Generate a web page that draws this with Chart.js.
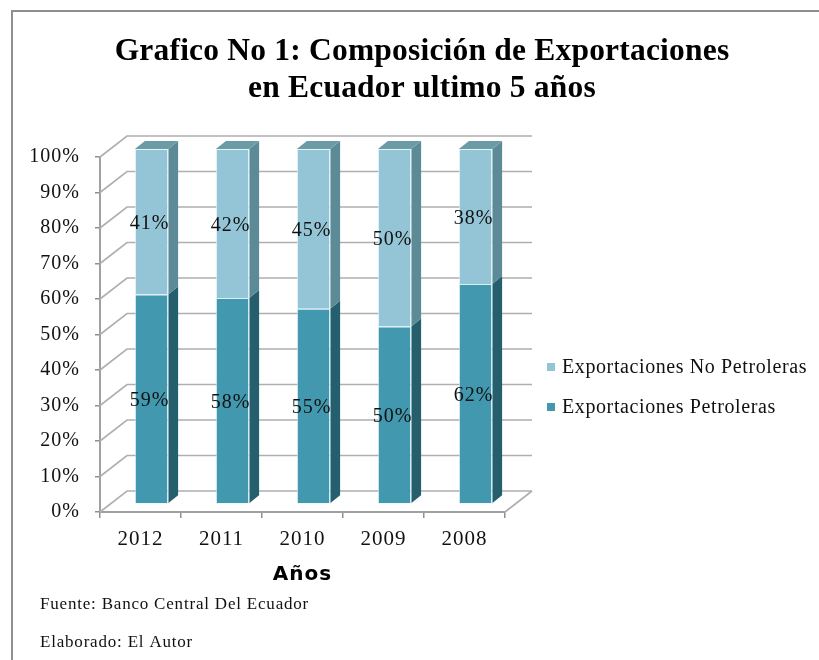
<!DOCTYPE html>
<html><head><meta charset="utf-8">
<script src="https://cdn.jsdelivr.net/npm/chart.js@4/dist/chart.umd.min.js"></script>
<style>html,body{margin:0;padding:0;background:#fff;}#wrap{position:relative;width:819px;height:660px;}</style>
</head><body><div id="wrap"><canvas id="c" width="819" height="660"></canvas></div>
<script>
const categories = ['2012', '2011', '2010', '2009', '2008'];
const petroleras = [59, 58, 55, 50, 62];
const noPetroleras = [41, 42, 45, 50, 38];
const yTickValues = [0, 10, 20, 30, 40, 50, 60, 70, 80, 90, 100];
const seriesNames = ['Exportaciones Petroleras', 'Exportaciones No Petroleras'];
const titleLines = ['Grafico No 1: Composición de Exportaciones', 'en Ecuador ultimo 5 años'];
const xAxisTitle = 'Años';
const notes = ['Fuente: Banco Central Del Ecuador', 'Elaborado: El Autor'];

const FRONT = ['#4298AE', '#93C5D6'];
const SIDE = ['#255F6D', '#5D8A97'];
const TOP = ['#3A7F90', '#6C9BA8'];
const SERIF = '"Liberation Serif", "Times New Roman", serif';
const BACK = {dx: 27, dy: -21};
const BAR = {dx: 11, dy: -8};
const DEPTH = {dx: 10, dy: -8};

const threeD = {
  id: 'threeD',
  beforeDraw(chart) {
    const ctx = chart.ctx;
    ctx.save();
    ctx.strokeStyle = '#8f8f8f';
    ctx.lineWidth = 2;
    ctx.strokeRect(12, 11, 900, 800);
    ctx.restore();
    ctx.letterSpacing = '1px';
  },
  beforeDatasetsDraw(chart) {
    const ctx = chart.ctx;
    const xs = chart.scales.x, ys = chart.scales.y;
    const L = xs.left, R = xs.right;
    ctx.save();
    ctx.strokeStyle = '#afafaf';
    ctx.lineWidth = 1.6;
    yTickValues.forEach(v => {
      const y = ys.getPixelForValue(v);
      ctx.beginPath();
      ctx.moveTo(L, y);
      ctx.lineTo(L + BACK.dx, y + BACK.dy);
      ctx.lineTo(R + BACK.dx, y + BACK.dy);
      if (v === 0) { ctx.moveTo(R, y); ctx.lineTo(R + BACK.dx, y + BACK.dy); }
      ctx.stroke();
    });
    ctx.restore();
    ctx.save();
    ctx.translate(BAR.dx, BAR.dy);
  },
  afterDatasetsDraw(chart) {
    const ctx = chart.ctx;
    const nd = chart.data.datasets.length;
    chart.data.datasets.forEach((ds, di) => {
      const meta = chart.getDatasetMeta(di);
      meta.data.forEach((el) => {
        const p = el.getProps(['x', 'y', 'base', 'width'], true);
        const l = p.x - p.width / 2, r = p.x + p.width / 2;
        ctx.fillStyle = SIDE[di];
        ctx.beginPath();
        ctx.moveTo(r, p.y); ctx.lineTo(r + DEPTH.dx, p.y + DEPTH.dy);
        ctx.lineTo(r + DEPTH.dx, p.base + DEPTH.dy); ctx.lineTo(r, p.base);
        ctx.closePath(); ctx.fill();
        ctx.strokeStyle = 'rgba(220,240,245,0.8)'; ctx.lineWidth = 1;
        ctx.beginPath(); ctx.moveTo(r, p.y); ctx.lineTo(r, p.base); ctx.stroke();
        if (di === nd - 1) {
          ctx.fillStyle = TOP[di];
          ctx.beginPath();
          ctx.moveTo(l, p.y); ctx.lineTo(l + DEPTH.dx, p.y + DEPTH.dy);
          ctx.lineTo(r + DEPTH.dx, p.y + DEPTH.dy); ctx.lineTo(r, p.y);
          ctx.closePath(); ctx.fill();
        }
      });
    });
    ctx.fillStyle = '#111';
    ctx.font = '20px ' + SERIF;
    ctx.letterSpacing = '1px';
    ctx.textAlign = 'center';
    ctx.textBaseline = 'middle';
    chart.data.datasets.forEach((ds, di) => {
      const meta = chart.getDatasetMeta(di);
      meta.data.forEach((el, i) => {
        const p = el.getProps(['x', 'y', 'base'], true);
        ctx.fillText(ds.data[i] + '%', p.x - 2, (p.y + p.base) / 2 + 2);
      });
    });
    ctx.restore();
  },
  afterDraw(chart) {
    const ctx = chart.ctx;
    ctx.save();
    ctx.fillStyle = '#000';
    ctx.textAlign = 'center';
    ctx.textBaseline = 'middle';
    ctx.letterSpacing = '0.2px';
    ctx.font = 'bold 31.5px ' + SERIF;
    ctx.fillText(titleLines[0], 422, 52);
    ctx.fillText(titleLines[1], 422, 89);
    // legend (reverse order)
    ctx.textAlign = 'left';
    ctx.font = '20px ' + SERIF;
    ctx.letterSpacing = '0.6px';
    const ly = [407, 367];
    chart.data.datasets.forEach((ds, di) => {
      ctx.fillStyle = FRONT[di];
      ctx.fillRect(547, ly[di] - 4, 8, 8);
      ctx.fillStyle = '#111';
      ctx.fillText(ds.label, 562, ly[di] + 1);
    });
    ctx.font = '17px ' + SERIF;
    ctx.letterSpacing = '0.8px';
    ctx.fillText(notes[0], 40, 605);
    ctx.fillText(notes[1], 40, 643);
    ctx.restore();
  }
};

new Chart(document.getElementById('c'), {
  type: 'bar',
  data: {
    labels: categories,
    datasets: [
      {label: seriesNames[0], data: petroleras, backgroundColor: FRONT[0], borderColor: 'rgba(200,232,240,0.7)', borderWidth: 1, barPercentage: 0.41, categoryPercentage: 1, clip: false},
      {label: seriesNames[1], data: noPetroleras, backgroundColor: FRONT[1], borderColor: 'rgba(225,242,247,0.8)', borderWidth: 1, barPercentage: 0.41, categoryPercentage: 1, clip: false}
    ]
  },
  options: {
    responsive: false,
    animation: false,
    devicePixelRatio: 1,
    layout: {padding: {left: 0, right: 314, top: 157, bottom: 73}},
    plugins: {legend: {display: false}, title: {display: false}, tooltip: {enabled: false}},
    scales: {
      x: {
        stacked: true,
        grid: {drawOnChartArea: false, drawTicks: true, tickLength: 6, color: '#8f8f8f', lineWidth: 1.5},
        border: {display: true, color: '#a0a0a0', width: 2},
        ticks: {color: '#111', font: {family: SERIF, size: 21}, padding: 9},
        title: {display: true, text: xAxisTitle, color: '#000', font: {family: '"DejaVu Sans", sans-serif', size: 20, weight: 'bold'}, padding: {top: 0, bottom: 0}},
        afterFit(s) { s.height = 75; }
      },
      y: {
        stacked: true,
        min: 0, max: 100,
        afterBuildTicks(s) { s.ticks = yTickValues.map(v => ({value: v})); },
        grid: {drawOnChartArea: false, drawTicks: true, tickLength: 5, color: '#8f8f8f', lineWidth: 1.5},
        border: {display: true, color: '#a0a0a0', width: 2},
        ticks: {color: '#111', font: {family: SERIF, size: 20}, padding: 15, callback: v => v + '%'},
        afterFit(s) { s.width = 100; }
      }
    }
  },
  plugins: [threeD]
});
</script></body></html>
